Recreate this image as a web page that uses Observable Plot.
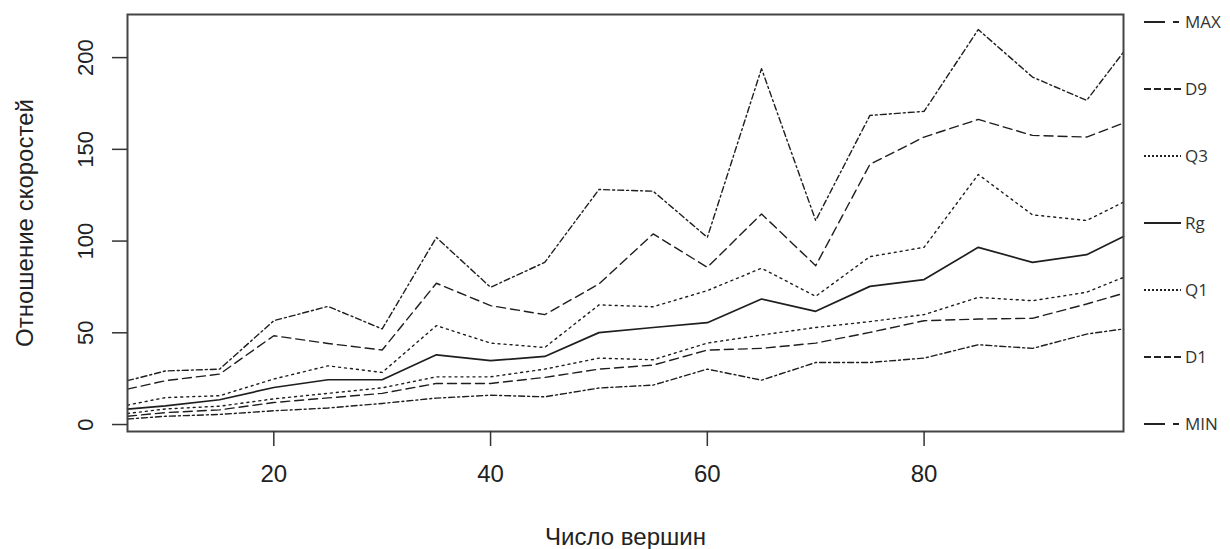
<!DOCTYPE html>
<html><head><meta charset="utf-8">
<script src="https://cdn.jsdelivr.net/npm/d3@7"></script>
<script src="https://cdn.jsdelivr.net/npm/@observablehq/plot@0.6"></script>
<style>body{margin:0;background:#fff}</style>
</head><body><div id="chart"></div>
<script>
// Число вершин (x values; first/last are the values at the plot edges)
const vertices = [6.5, 10, 15, 20, 25, 30, 35, 40, 45, 50, 55, 60, 65, 70, 75, 80, 85, 90, 95, 98.4];
const maxVals = [23.9, 29.2, 30.2, 56.6, 64.4, 52.1, 102, 74.8, 88.4, 128.1, 127.2, 102, 194, 111.2, 168.5, 170.7, 215.3, 189.4, 176.7, 203];
const d9Vals  = [19.3, 23.9, 27.5, 48.4, 44.2, 40.6, 77, 64.8, 59.9, 76.6, 103.9, 85.7, 114.8, 86.6, 141.8, 156.7, 166.3, 157.6, 156.7, 164.3];
const q3Vals  = [10.6, 14.7, 15.7, 24.8, 32, 28.4, 53.9, 44.4, 42, 65.2, 64.2, 73, 85.2, 69.9, 91.5, 96.6, 136.3, 114.3, 111.2, 121.2];
const rgVals  = [8.4, 10.2, 13.5, 20.2, 24.4, 24.4, 38, 34.8, 37.1, 50.1, 52.9, 55.5, 68.4, 61.7, 75.3, 79, 96.6, 88.4, 92.6, 102.5];
const q1Vals  = [6, 8.5, 10, 14, 17, 20, 26, 26, 30.2, 36.2, 35.3, 44.4, 48.8, 52.9, 56.1, 59.9, 69.3, 67.5, 72.1, 80.2];
const d1Vals  = [4.5, 6.5, 8, 12, 14.5, 17, 22.4, 22.4, 25.7, 30.2, 32.4, 40.6, 41.5, 44.4, 50.2, 56.6, 57.5, 57.9, 65.7, 71.5];
const minVals = [3, 4.5, 5.5, 7.5, 9, 11.5, 14.4, 16, 15.1, 19.9, 21.5, 30.2, 24.2, 33.8, 33.8, 36.2, 43.5, 41.5, 49.3, 52.1];

const seriesNames = ["MAX", "D9", "Q3", "Rg", "Q1", "D1", "MIN"];
const seriesValues = {MAX: maxVals, D9: d9Vals, Q3: q3Vals, Rg: rgVals, Q1: q1Vals, D1: d1Vals, MIN: minVals};
const xTicks = [20, 40, 60, 80];
const yTicks = [0, 50, 100, 150, 200];
const xTitle = "Число вершин";
const yTitle = "Отношение скоростей";

const lineStyle = {
  MAX: {dash: "6,3,2,3", w: 1.4, lg: "21,8,6,40"},
  D9:  {dash: "9,5", w: 1.4, lg: "7,3"},
  Q3:  {dash: "2,4", w: 1.4, lg: "2,2"},
  Rg:  {dash: null, w: 1.7, lg: null},
  Q1:  {dash: "2,4", w: 1.4, lg: "2,2"},
  D1:  {dash: "9,5", w: 1.4, lg: "7,3"},
  MIN: {dash: "6,3,2,3", w: 1.4, lg: "21,8,6,40"}
};

const table = seriesNames.flatMap(name =>
  seriesValues[name].map((v, i) => ({series: name, x: vertices[i], y: v})));

const plot = Plot.plot({
  width: 1230, height: 549,
  marginTop: 14, marginRight: 107, marginBottom: 118, marginLeft: 127,
  x: {domain: [vertices[0], vertices[vertices.length - 1]]},
  y: {domain: [-3.8, 223.5]},
  style: {fontFamily: "'Liberation Sans', Arial, sans-serif", color: "#222", background: "#fff"},
  marks: [
    ...seriesNames.map(name => Plot.line(table.filter(d => d.series === name), {
      x: "x", y: "y", stroke: "#1e1e1e", strokeWidth: lineStyle[name].w,
      strokeDasharray: lineStyle[name].dash, curve: "linear"
    })),
    Plot.frame({stroke: "#444", strokeWidth: 2}),
    Plot.axisX({ticks: xTicks, tickSize: 15, tickPadding: 18, fontSize: 24, label: null, stroke: "#333", strokeWidth: 1.5}),
    Plot.axisY({ticks: yTicks, tickSize: 15, tickFormat: () => "", label: null, stroke: "#333", strokeWidth: 1.5}),
    Plot.text(yTicks, {y: d => d, text: d => String(d), frameAnchor: "left", textAnchor: "middle", dx: -42, rotate: -90, fontSize: 22, fill: "#222"}),
    Plot.text([xTitle], {text: d => d, frameAnchor: "bottom", textAnchor: "middle", dy: 113, fontSize: 24, fill: "#222"}),
    Plot.text([yTitle], {text: d => d, frameAnchor: "left", textAnchor: "middle", dx: -102, rotate: -90, fontSize: 24, fill: "#222"})
  ]
});

const svg = d3.select(plot);
const lg = svg.append("g").attr("class", "legend").attr("text-anchor", "start");
seriesNames.forEach((name, i) => {
  const y = 22 + i * 67;
  const st = lineStyle[name];
  const ln = lg.append("line").attr("x1", 1144).attr("x2", 1181).attr("y1", y).attr("y2", y)
    .attr("stroke", "#222").attr("stroke-width", name === "Rg" ? 2.2 : 2);
  if (st.lg) ln.attr("stroke-dasharray", st.lg);
  lg.append("text").attr("x", 1185).attr("y", y).attr("dy", "0.35em")
    .attr("text-anchor", "start")
    .attr("font-family", "'Open Sans', sans-serif").attr("font-size", 17).attr("fill", "#333")
    .text(name);
});

document.getElementById("chart").appendChild(plot);
</script>
</body></html>
